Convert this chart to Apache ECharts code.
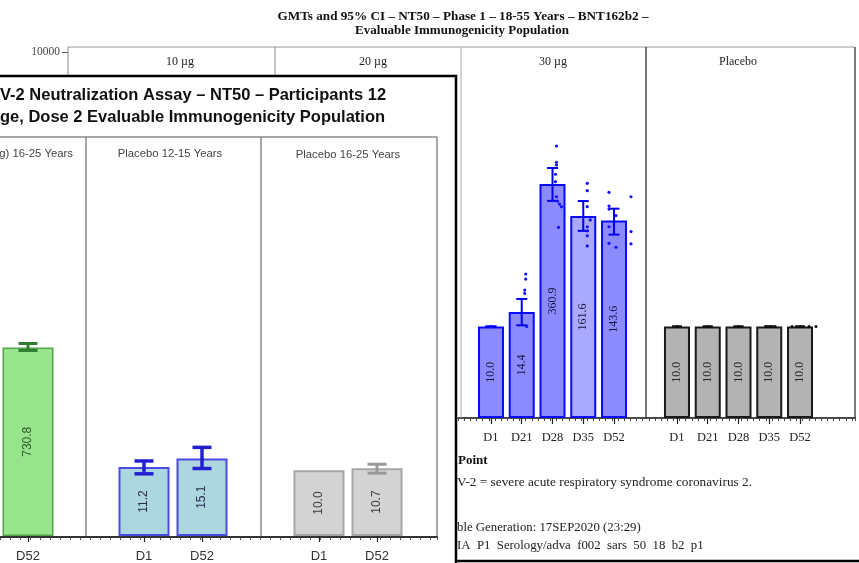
<!DOCTYPE html>
<html><head><meta charset="utf-8">
<script src="https://cdn.jsdelivr.net/npm/echarts@6/dist/echarts.min.js"></script>
<style>html,body{margin:0;padding:0;background:#fff}#c{width:859px;height:563px}</style>
</head><body><div id="c"></div>
<script>
// ---------- Background figure: Phase 1, 18-55 Years ----------
const bgTitle1 = 'GMTs and 95% CI – NT50 – Phase 1 – 18-55 Years – BNT162b2 –';
const bgTitle2 = 'Evaluable Immunogenicity Population';
const bgPanels = ['10 µg', '20 µg', '30 µg', 'Placebo'];
const bgDays = ['D1', 'D21', 'D28', 'D35', 'D52'];
const gmt30 = [10.0, 14.4, 360.9, 161.6, 143.6];
const ciLow30 = [10.0, 10.3, 236, 111, 101];
const ciHigh30 = [10.0, 20.0, 540, 235, 194];
const gmtPlacebo = [10.0, 10.0, 10.0, 10.0, 10.0];
const ciLowPlacebo = [10.0, 10.0, 10.0, 10.0, 10.0];
const ciHighPlacebo = [10.0, 10.0, 10.0, 10.0, 10.0];
// individual participant titres per day
const dots30 = [[10], [10, 23, 25, 33, 37.5], [939, 623, 582, 461, 383, 262, 235, 218, 204, 121],
  [367, 305, 204, 146, 123, 111, 98, 76], [293, 262, 207, 192, 163, 123, 109, 81, 80, 73.5]];
const dotsPlacebo = [[10], [10], [10], [10, 10, 10], [10, 10, 10, 10]];
const bgFootnotes = ['Point', 'V-2 = severe acute respiratory syndrome coronavirus 2.',
  'ble Generation: 17SEP2020 (23:29)', 'IA  P1  Serology/adva  f002  sars  50  18  b2  p1'];
const bgYTicks = [1, 10000];

// ---------- Overlay figure: 12-25 Years ----------
const ovTitle1 = 'V-2 Neutralization Assay – NT50 – Participants 12';
const ovTitle2 = 'ge, Dose 2 Evaluable Immunogenicity Population';
const ovPanels = ['g) 16-25 Years', 'Placebo 12-15 Years', 'Placebo 16-25 Years'];
const ovDays1 = ['D52'];
const ovGmt1 = [730.8];
const ovCi1 = [[658, 840]];
const ovDays2 = ['D1', 'D52'];
const ovGmt2 = [11.2, 15.1];
const ovCi2 = [[8.8, 13.8], [10.6, 22.2]];
const ovDays3 = ['D1', 'D52'];
const ovGmt3 = [10.0, 10.7];
const ovCi3 = [null, [9.0, 12.3]];

// ---------- layout / styling (not data) ----------
const jit30 = [[0], [5, 3, 3, 4, 4], [4, 4, 4, 3, 3, 4, 5, 7, 9, 6], [4, 4, 4, 7, 4, 4, 4, 4], [-5, 17, -5, -5, 2, -5, 17, -5, 17, 2]];
const jitPlacebo = [[0], [0], [0], [-3, 1, 6], [-8, 0, 9, 16]];
const serif = '"Liberation Serif", "Times New Roman", serif';
const sans = '"Liberation Sans", Arial, sans-serif';

function txt(text, x, y, font, fill, align, zlevel) {
  return {type: 'text', x: x, y: y, zlevel: zlevel, z: 20, silent: true,
    style: {text: text, font: font, fill: fill, align: align || 'left', verticalAlign: 'middle',
      textAlign: align || 'left', textVerticalAlign: 'middle'}};
}
function ln(x1, y1, x2, y2, stroke, lw, zlevel) {
  return {type: 'line', zlevel: zlevel, z: 15, silent: true, shape: {x1: x1, y1: y1, x2: x2, y2: y2}, style: {stroke: stroke, lineWidth: lw}};
}
function errRender(color, lw, cap) {
  return function (params, api) {
    const x = api.value(0);
    const lo = api.coord([x, api.value(1)]);
    const hi = api.coord([x, api.value(2)]);
    const s = {stroke: color, lineWidth: lw};
    return {type: 'group', children: [
      {type: 'line', shape: {x1: lo[0], y1: lo[1], x2: hi[0], y2: hi[1]}, style: s},
      {type: 'line', shape: {x1: hi[0] - cap / 2, y1: hi[1], x2: hi[0] + cap / 2, y2: hi[1]}, style: s},
      {type: 'line', shape: {x1: lo[0] - cap / 2, y1: lo[1], x2: lo[0] + cap / 2, y2: lo[1]}, style: s}
    ]};
  };
}
function dotRender(color, r) {
  return function (params, api) {
    const c = api.coord([api.value(0), api.value(1)]);
    return {type: 'circle', shape: {cx: c[0] + api.value(2), cy: c[1], r: r}, style: {fill: color}};
  };
}
function dotData(vals, jit) {
  const out = [];
  vals.forEach((arr, i) => arr.forEach((v, k) => out.push([i, v, jit[i][k]])));
  return out;
}
function ciData(lo, hi) { return lo.map((l, i) => [i, l, hi[i]]); }
function ciPairs(pairs) { const o = []; pairs.forEach((p, i) => { if (p) o.push([i, p[0], p[1]]); }); return o; }

const BG_TOP = 52, BG_H = 366, OV_TOP = 141, OV_H = 396;
const grids = [
  {left: 68, top: BG_TOP, width: 787, height: BG_H, zlevel: 0},      // 0 bg y-axis
  {left: 475.6, top: BG_TOP, width: 153.8, height: BG_H, zlevel: 0}, // 1 30 µg
  {left: 661.6, top: BG_TOP, width: 153.8, height: BG_H, zlevel: 0}, // 2 placebo
  {left: 458, top: BG_TOP, width: 397, height: BG_H, zlevel: 0},     // 3 bg tick frame
  {left: 0, top: OV_TOP, width: 56, height: OV_H, zlevel: 2},        // 4 ov panel 1
  {left: 115, top: OV_TOP, width: 116, height: OV_H, zlevel: 2},     // 5 ov panel 2
  {left: 290, top: OV_TOP, width: 116, height: OV_H, zlevel: 2},     // 6 ov panel 3
  {left: 0, top: OV_TOP, width: 437, height: OV_H, zlevel: 2}        // 7 ov tick frame
];
function catAxis(gi, data, zl, font, size, color, margin) {
  return {type: 'category', gridIndex: gi, data: data, zlevel: zl, boundaryGap: true,
    axisLine: {show: false}, axisTick: {show: true, alignWithLabel: true, length: 6, lineStyle: {color: '#222', width: 1.2}},
    axisLabel: {show: true, fontFamily: font, fontSize: size, color: color, margin: margin}, splitLine: {show: false}};
}
const xAxes = [
  {type: 'value', gridIndex: 0, show: false, min: 0, max: 1, zlevel: 0},
  catAxis(1, bgDays, 0, serif, 12.5, '#222', 13),
  catAxis(2, bgDays, 0, serif, 12.5, '#222', 13),
  {type: 'value', gridIndex: 3, min: 0, max: 64.5, interval: 1, zlevel: 0,
    axisLine: {show: true, lineStyle: {color: '#111', width: 1.5}}, axisTick: {show: true, length: 3, lineStyle: {color: '#444'}},
    axisLabel: {show: false}, splitLine: {show: false}},
  catAxis(4, ovDays1, 2, sans, 13, '#333', 14),
  catAxis(5, ovDays2, 2, sans, 13, '#333', 14),
  catAxis(6, ovDays3, 2, sans, 13, '#333', 14),
  {type: 'value', gridIndex: 7, min: 0, max: 43.7, interval: 1, zlevel: 2,
    axisLine: {show: true, lineStyle: {color: '#333', width: 2}}, axisTick: {show: true, length: 3, lineStyle: {color: '#555'}},
    axisLabel: {show: false}, splitLine: {show: false}}
];
function logAxis(gi, max, zl) {
  return {type: 'log', gridIndex: gi, min: 1, max: max, logBase: 10, show: false, zlevel: zl, splitLine: {show: false}};
}
const yAxes = [
  {type: 'log', gridIndex: 0, min: bgYTicks[0], max: bgYTicks[1], logBase: 10, zlevel: 0,
    axisLine: {show: false}, axisTick: {show: true, length: 6, lineStyle: {color: '#555'}},
    axisLabel: {show: true, fontFamily: serif, fontSize: 11.5, color: '#444', margin: 8, formatter: v => String(Math.round(v))},
    splitLine: {show: false}},
  logAxis(1, 10000, 0), logAxis(2, 10000, 0),
  {type: 'value', gridIndex: 3, show: false, zlevel: 0},
  logAxis(4, 1e6, 2), logAxis(5, 1e6, 2), logAxis(6, 1e6, 2),
  {type: 'value', gridIndex: 7, show: false, zlevel: 2}
];

function barSeries(xi, vals, colorFn, border, bw, barW, labelColor, font, fsize, zl) {
  return {type: 'bar', xAxisIndex: xi, yAxisIndex: xi, zlevel: zl, z: 3, silent: true, barWidth: barW,
    data: vals.map((v, i) => ({value: v, itemStyle: {color: colorFn(i)}})),
    itemStyle: {borderColor: border, borderWidth: bw},
    label: {show: true, position: 'inside', rotate: 90, formatter: p => Number(p.value).toFixed(1),
      fontFamily: font, fontSize: fsize, color: labelColor}};
}
function customSeries(xi, data, render, zl, z) {
  return {type: 'custom', xAxisIndex: xi, yAxisIndex: xi, zlevel: zl, z: z, silent: true,
    renderItem: render, data: data, encode: {x: 0, y: [1, 2]}};
}

const series = [
  barSeries(1, gmt30, i => (i === 3 ? '#a9a9ff' : '#8b8bff'), '#0a0aff', 2, 26, '#15153a', serif, 12, 0),
  customSeries(1, ciData(ciLow30, ciHigh30), errRender('#0000ee', 2, 11), 0, 5),
  customSeries(1, dotData(dots30, jit30), dotRender('#1010ff', 1.6), 0, 6),
  barSeries(2, gmtPlacebo, () => '#b3b3b3', '#1a1a1a', 2, 26, '#222', serif, 12, 0),
  customSeries(2, ciData(ciLowPlacebo, ciHighPlacebo), errRender('#111', 2, 10), 0, 5),
  customSeries(2, dotData(dotsPlacebo, jitPlacebo), dotRender('#111', 1.5), 0, 6),

  barSeries(4, ovGmt1, () => '#98e48c', '#52a846', 1.5, 51, '#2c5a2c', sans, 12, 2),
  customSeries(4, ciPairs(ovCi1), errRender('#2f7d2f', 3, 19), 2, 5),
  barSeries(5, ovGmt2, () => '#acd7de', '#4a4ae6', 2, 51, '#2a2a50', sans, 12, 2),
  customSeries(5, ciPairs(ovCi2), errRender('#2020d0', 3.5, 19), 2, 5),
  barSeries(6, ovGmt3, () => '#d3d3d3', '#a6a6a6', 2, 51, '#3a3a3a', sans, 12, 2),
  customSeries(6, ciPairs(ovCi3), errRender('#999', 3, 19), 2, 5)
];

const graphics = [
  // background document
  txt(bgTitle1, 463, 17, 'bold 13.2px ' + serif, '#111', 'center', 0),
  txt(bgTitle2, 462, 31, 'bold 13px ' + serif, '#111', 'center', 0),
  ln(68, 47, 855, 47, '#999', 1, 0),
  ln(68, 47, 68, 418, '#888', 1, 0),
  ln(275, 47, 275, 418, '#888', 1, 0),
  ln(461, 47, 461, 418, '#aaa', 1, 0),
  ln(646, 47, 646, 418, '#222', 1.2, 0),
  ln(855, 47, 855, 418, '#222', 1.2, 0),
  txt(bgPanels[0], 180, 62, '12px ' + serif, '#222', 'center', 0),
  txt(bgPanels[1], 373, 62, '12px ' + serif, '#222', 'center', 0),
  txt(bgPanels[2], 553, 62, '12px ' + serif, '#222', 'center', 0),
  txt(bgPanels[3], 738, 62, '12px ' + serif, '#222', 'center', 0),
  txt(bgFootnotes[0], 458, 461, 'bold 13px ' + serif, '#111', 'left', 0),
  txt(bgFootnotes[1], 457, 483, '13.3px ' + serif, '#222', 'left', 0),
  txt(bgFootnotes[2], 457, 528, '12.8px ' + serif, '#222', 'left', 0),
  txt(bgFootnotes[3], 457, 546, '12.8px ' + serif, '#222', 'left', 0),
  // overlay box
  {type: 'rect', zlevel: 1, z: 1, silent: true, shape: {x: -5, y: 76, width: 461, height: 500},
    style: {fill: '#fff', stroke: '#000', lineWidth: 2.5}},
  ln(455, 561, 860, 561, '#000', 2.5, 1),
  txt(ovTitle1, 0, 95, 'bold 16.5px ' + sans, '#111', 'left', 1),
  txt(ovTitle2, 0, 117, 'bold 16.5px ' + sans, '#111', 'left', 1),
  ln(0, 137, 437, 137, '#8a8a8a', 1.5, 1),
  ln(86, 137, 86, 537, '#8a8a8a', 1.5, 1),
  ln(261, 137, 261, 537, '#8a8a8a', 1.5, 1),
  ln(437, 137, 437, 537, '#8a8a8a', 1.5, 1),
  txt(ovPanels[0], 73, 154, '11.3px ' + sans, '#444', 'right', 1),
  txt(ovPanels[1], 170, 154, '11.3px ' + sans, '#444', 'center', 1),
  txt(ovPanels[2], 348, 155, '11.3px ' + sans, '#444', 'center', 1)
];

const chart = echarts.init(document.getElementById('c'), null, {renderer: 'canvas', width: 859, height: 563});
chart.setOption({
  animation: false,
  backgroundColor: '#fff',
  grid: grids,
  xAxis: xAxes,
  yAxis: yAxes,
  series: series,
  graphic: {elements: graphics}
});
</script>
</body></html>
